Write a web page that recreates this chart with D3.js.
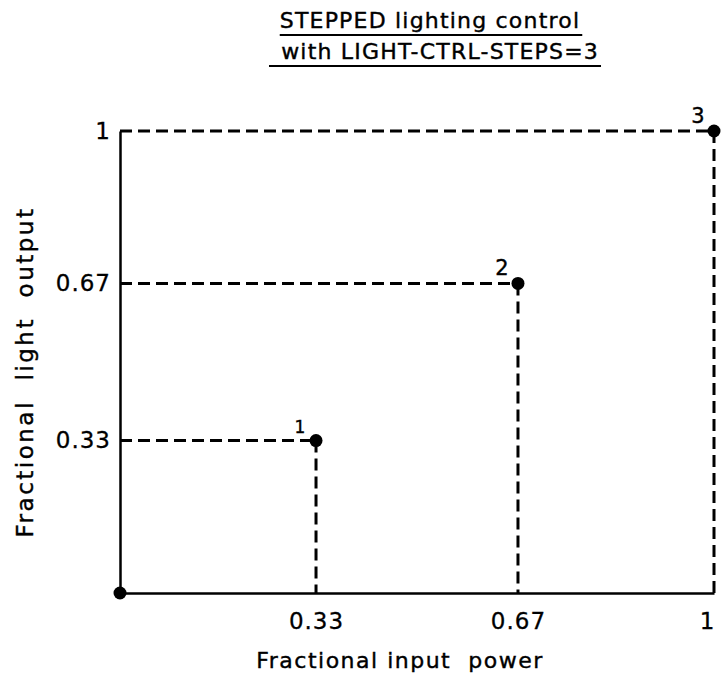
<!DOCTYPE html>
<html>
<head>
<meta charset="utf-8">
<script src="https://cdn.jsdelivr.net/npm/d3@7"></script>
<style>
  body { margin: 0; background: #fff; }
  svg text { font-family: "DejaVu Sans", sans-serif; fill: #000; }
</style>
</head>
<body>
<div id="chart"></div>
<script>
// steps of the stepped lighting control (input power -> light output)
const stepLabels = ["", "1", "2", "3"];
const inputPower = [0, 0.33, 0.67, 1];
const lightOutput = [0, 0.33, 0.67, 1];
const xTicks = [0.33, 0.67, 1];
const yTicks = [0.33, 0.67, 1];
const titleLines = ["STEPPED lighting control", " with LIGHT-CTRL-STEPS=3"];

const width = 722, height = 673;
const svg = d3.select("#chart").append("svg")
  .attr("width", width).attr("height", height);

const x = d3.scaleLinear().domain([0, 1]).range([120, 714]);
const y = d3.scaleLinear().domain([0, 1]).range([593, 131]);

const fmt = d => d === 1 ? "1" : d3.format(".2f")(d);

// title, underlined
const title = svg.append("g");
titleLines.forEach((t, i) => {
  const txt = title.append("text")
    .attr("x", 430 + i * 6).attr("y", 28 + i * 31)
    .attr("text-anchor", "middle")
    .attr("font-size", 22)
    .attr("letter-spacing", 1.2)
    .attr("stroke", "#000").attr("stroke-width", 0.4)
    .attr("xml:space", "preserve")
    .text(t);
  const bb = txt.node().getBBox();
  title.append("line")
    .attr("x1", bb.x - (i ? 4 : 0)).attr("x2", bb.x + bb.width + 2)
    .attr("y1", 35 + i * 31).attr("y2", 35 + i * 31)
    .attr("stroke", "#000").attr("stroke-width", 2);
});

// axes
const xAxis = svg.append("g")
  .attr("transform", `translate(0,${y(0)})`)
  .call(d3.axisBottom(x).tickValues(xTicks).tickSize(0).tickSizeOuter(0)
    .tickPadding(20).tickFormat(fmt));
xAxis.selectAll("text").attr("font-size", 23).attr("font-family", "DejaVu Sans, sans-serif")
  .attr("letter-spacing", 1).attr("stroke", "#000").attr("stroke-width", 0.3)
  .attr("dx", d => d === 1 ? -7 : 0);

const yAxis = svg.append("g")
  .attr("transform", `translate(${x(0)},0)`)
  .call(d3.axisLeft(y).tickValues(yTicks).tickSize(0).tickSizeOuter(0)
    .tickPadding(9).tickFormat(fmt));
yAxis.selectAll("text").attr("font-size", 23).attr("font-family", "DejaVu Sans, sans-serif")
  .attr("letter-spacing", 1).attr("stroke", "#000").attr("stroke-width", 0.3);

[xAxis, yAxis].forEach(a => a.select(".domain").attr("stroke", "#000").attr("stroke-width", 2.5));

// dashed guides from each step to both axes
const steps = inputPower.map((p, i) => ({ p, l: lightOutput[i], label: stepLabels[i] }))
  .filter(d => d.p > 0);
const dash = "12,6";
svg.append("g").selectAll("line.h").data(steps).join("line")
  .attr("x1", x(0)).attr("x2", d => x(d.p))
  .attr("y1", d => y(d.l)).attr("y2", d => y(d.l))
  .attr("stroke", "#000").attr("stroke-width", 3).attr("stroke-dasharray", dash);
svg.append("g").selectAll("line.v").data(steps).join("line")
  .attr("x1", d => x(d.p)).attr("x2", d => x(d.p))
  .attr("y1", d => y(d.l)).attr("y2", y(0))
  .attr("stroke", "#000").attr("stroke-width", 3).attr("stroke-dasharray", dash);

// points
svg.append("g").selectAll("circle").data(inputPower).join("circle")
  .attr("cx", d => x(d)).attr("cy", (d, i) => y(lightOutput[i]))
  .attr("r", 6.5).attr("fill", "#000");

// step numbers
svg.append("g").selectAll("text").data(steps).join("text")
  .attr("x", d => x(d.p) - 16).attr("y", d => y(d.l) - 8)
  .attr("text-anchor", "middle")
  .attr("font-size", (d, i) => i === 0 ? 17 : 21)
  .attr("stroke", "#000").attr("stroke-width", 0.4)
  .text(d => d.label);

// axis titles
svg.append("text")
  .attr("x", 400).attr("y", 668)
  .attr("text-anchor", "middle").attr("font-size", 22)
  .attr("letter-spacing", 1.5)
  .attr("stroke", "#000").attr("stroke-width", 0.4)
  .attr("xml:space", "preserve")
  .text("Fractional input  power");

svg.append("text")
  .attr("transform", `translate(33,372) rotate(-90)`)
  .attr("text-anchor", "middle").attr("font-size", 23)
  .attr("letter-spacing", 2.5)
  .attr("stroke", "#000").attr("stroke-width", 0.4)
  .attr("xml:space", "preserve")
  .text("Fractional  light  output");
</script>
</body>
</html>
